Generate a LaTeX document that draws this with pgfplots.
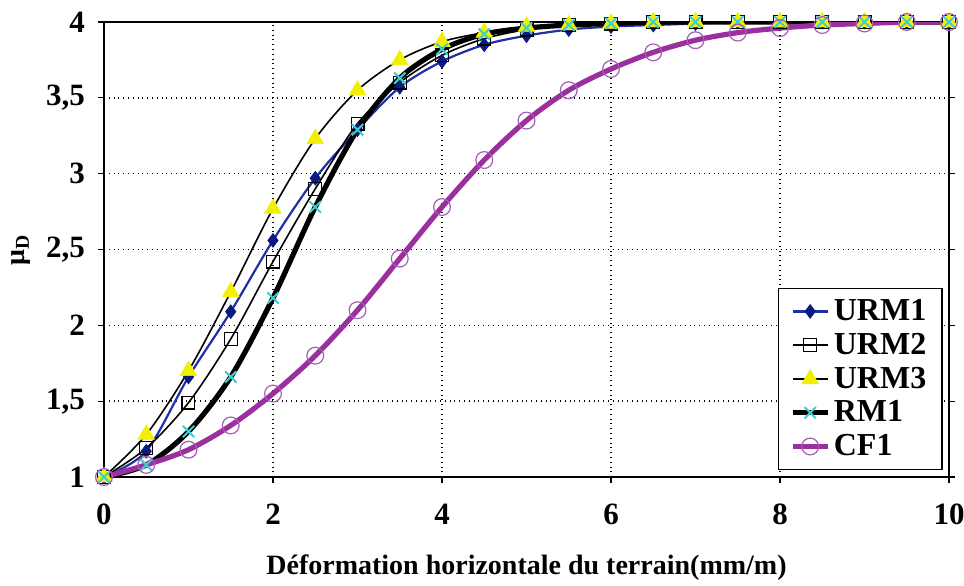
\documentclass[border=0pt]{standalone}
\usepackage{pgfplots}
\pgfplotsset{compat=1.18}
\usepackage{fontspec}
\setmainfont{Liberation Serif}
\definecolor{urmblue}{HTML}{1F2FA8}
\definecolor{urmnavy}{HTML}{0A1A80}
\definecolor{cfpurple}{HTML}{9A2F9E}
\definecolor{cfmark}{HTML}{A55DB5}
\definecolor{rmcyan}{HTML}{3CCFD2}
\definecolor{triyellow}{HTML}{F2F000}
\begin{document}
\begin{tikzpicture}
\begin{axis}[
  name=ax,
  scale only axis,
  width=422.5pt, height=227.5pt,
  xmin=0, xmax=10, ymin=1, ymax=4,
  xtick={0,2,4,6,8,10}, ytick={1,1.5,2,2.5,3,3.5,4},
  xticklabels={0,2,4,6,8,10},
  yticklabels={1,{1,5},2,{2,5},3,{3,5},4},
  ticklabel style={font=\fontsize{15.5}{17}\selectfont\bfseries},
  xticklabel style={yshift=-7pt},
  yticklabel style={xshift=-3pt},
  xtick pos=bottom,
  tick align=outside,
  major tick length=3pt,
  tick style={black, line width=0.6pt},
  axis line style={black, line width=0.8pt},
  grid=major,
  major grid style={black, dotted, line width=0.7pt},
  xlabel={Déformation horizontale du terrain(mm/m)},
  xlabel style={font=\fontsize{14}{16}\selectfont\bfseries, yshift=-8pt},
  ylabel={\textbf{μ\textsubscript{D}}},
  ylabel style={font=\fontsize{14}{16}\selectfont, yshift=1pt},
  legend cell align=left,
  legend style={at={(0.993,0.015)}, anchor=south east, draw=black, line width=0.8pt,
    font=\fontsize{16}{18}\selectfont\bfseries, inner xsep=6pt, inner ysep=3pt,
    nodes={inner ysep=2.4pt}},
]
\addplot[urmblue, line width=1.1pt, smooth, mark=diamond*, mark size=3.4pt, mark options={urmnavy, fill=urmnavy, line width=0.4pt}] coordinates {
(0,1) (0.5,1.17) (1,1.66) (1.5,2.09) (2,2.56) (2.5,2.97) (3,3.29) (3.5,3.57) (4,3.74) (4.5,3.85) (5,3.91) (5.5,3.95) (6,3.97) (6.5,3.98) (7,3.99) (7.5,4) (8,4) (8.5,4) (9,4) (9.5,4) (10,4)};
\addlegendentry{URM1}
\addplot[black, line width=0.8pt, smooth, mark=square, mark size=3.2pt, mark options={black, fill=white, line width=0.6pt}] coordinates {
(0,1) (0.5,1.19) (1,1.49) (1.5,1.91) (2,2.42) (2.5,2.90) (3,3.33) (3.5,3.60) (4,3.78) (4.5,3.89) (5,3.95) (5.5,3.98) (6,3.99) (6.5,4) (7,4) (7.5,4) (8,4) (8.5,4) (9,4) (9.5,4) (10,4)};
\addlegendentry{URM2}
\addplot[black, line width=0.8pt, smooth, mark=triangle*, mark size=4.8pt, mark options={triyellow, fill=triyellow, line width=0.3pt}] coordinates {
(0,1) (0.5,1.28) (1,1.70) (1.5,2.22) (2,2.77) (2.5,3.23) (3,3.55) (3.5,3.75) (4,3.87) (4.5,3.93) (5,3.97) (5.5,3.98) (6,3.99) (6.5,4) (7,4) (7.5,4) (8,4) (8.5,4) (9,4) (9.5,4) (10,4)};
\addlegendentry{URM3}
\addplot[black, line width=2.6pt, smooth, mark=x, mark size=4pt, mark options={rmcyan, line width=1pt}] coordinates {
(0,1) (0.5,1.08) (1,1.30) (1.5,1.66) (2,2.18) (2.5,2.78) (3,3.29) (3.5,3.63) (4,3.82) (4.5,3.92) (5,3.96) (5.5,3.98) (6,3.99) (6.5,4) (7,4) (7.5,4) (8,4) (8.5,4) (9,4) (9.5,4) (10,4)};
\addlegendentry{RM1}
\addplot[cfpurple, line width=2.6pt, smooth, mark=o, mark size=4.2pt, mark options={cfmark, line width=0.6pt}] coordinates {
(0,1) (0.5,1.08) (1,1.18) (1.5,1.34) (2,1.55) (2.5,1.80) (3,2.10) (3.5,2.44) (4,2.78) (4.5,3.09) (5,3.35) (5.5,3.55) (6,3.69) (6.5,3.80) (7,3.88) (7.5,3.93) (8,3.96) (8.5,3.98) (9,3.99) (9.5,4) (10,4)};
\addlegendentry{CF1}
\end{axis}
\pgfresetboundingbox
\path ([shift={(-52pt,-54pt)}]ax.south west) rectangle ([shift={(7.5pt,11pt)}]ax.north east);
\end{tikzpicture}
\end{document}
